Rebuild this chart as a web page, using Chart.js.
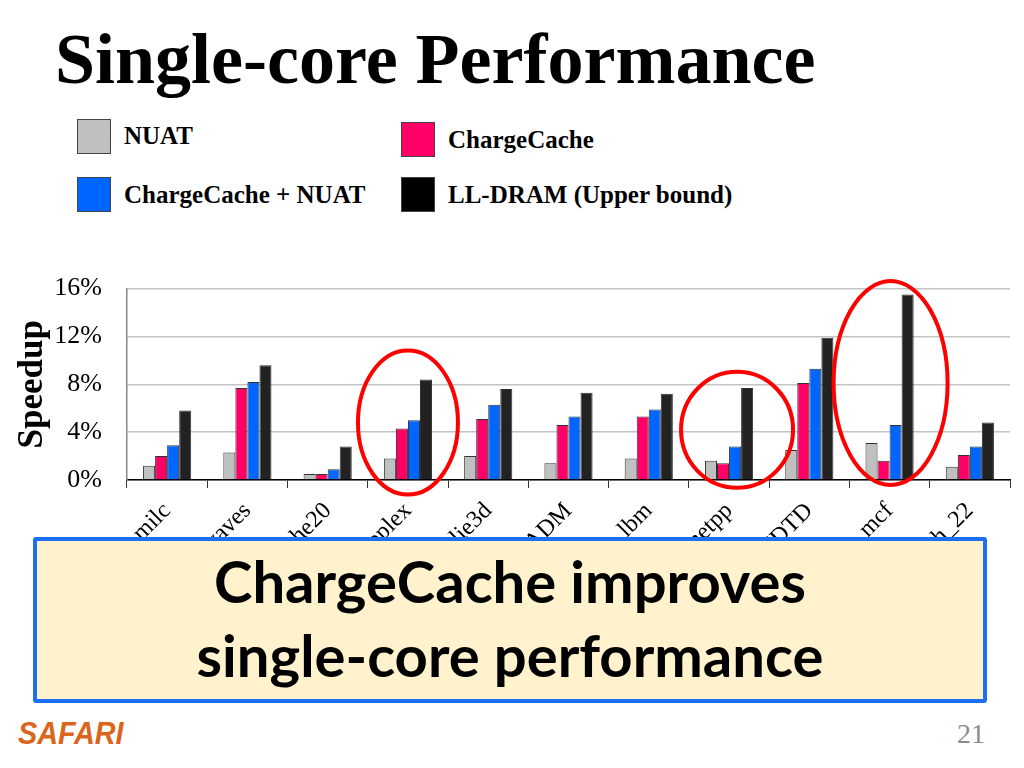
<!DOCTYPE html>
<html>
<head>
<meta charset="utf-8">
<title>Single-core Performance</title>
<script src="https://cdn.jsdelivr.net/npm/chart.js@4.4.0/dist/chart.umd.min.js"></script>
<style>
    html, body { margin: 0; padding: 0; background: #fff; }
    #slide { position: relative; width: 1024px; height: 768px; overflow: hidden; }
    h1 {
        position: absolute; left: 55px; top: 18px; margin: 0;
        font-family: "Liberation Serif", serif; font-weight: bold; font-size: 72px;
        color: #000; white-space: nowrap;
    }
    .key { position: absolute; width: 32px; height: 33px; border: 1px solid #444; }
    .key-label {
        position: absolute; font-family: "Liberation Serif", serif; font-weight: bold;
        font-size: 25px; color: #000; white-space: nowrap;
    }
    #chart { position: absolute; left: 0; top: 248px; }
    #note {
        position: absolute; left: 33px; top: 537px; width: 946px; height: 155px;
        background: #fff2cc; border: 4px solid #1c6ff0; border-radius: 3px;
        font-family: Lato, sans-serif; font-weight: bold; font-size: 58px;
        line-height: 74px; text-align: center; color: #000;
        padding-top: 3px; box-sizing: content-box;
    }
    #logo {
        position: absolute; left: 18px; top: 715px; font-family: "Liberation Sans", sans-serif;
        font-weight: bold; font-style: italic; font-size: 32px; color: #d9661c;
        transform: scaleX(0.9); transform-origin: left center;
    }
    #page {
        position: absolute; left: 957px; top: 718px; font-family: "Liberation Serif", serif;
        font-size: 28px; color: #8c8c8c;
    }
</style>
</head>
<body>
<div id="slide">
    <h1>Single-core Performance</h1>

    <div class="key" style="left:77px; top:119px; background:#c0c0c0;"></div>
    <div class="key-label" style="left:124px; top:122px;">NUAT</div>
    <div class="key" style="left:401px; top:122px; background:#ff0066;"></div>
    <div class="key-label" style="left:448px; top:126px;">ChargeCache</div>
    <div class="key" style="left:77px; top:177px; background:#0066ff;"></div>
    <div class="key-label" style="left:124px; top:181px;">ChargeCache + NUAT</div>
    <div class="key" style="left:401px; top:177px; background:#000;"></div>
    <div class="key-label" style="left:448px; top:181px;">LL-DRAM (Upper bound)</div>

    <canvas id="chart" width="1024" height="312"></canvas>

    <div id="note">ChargeCache improves<br>single-core performance</div>
    <div id="logo">SAFARI</div>
    <div id="page">21</div>
</div>

<script>
// Benchmarks and speedup values (%)
const benchmarks = ['milc', 'bwaves', 'apache20', 'soplex', 'leslie3d', 'cactusADM',
                    'lbm', 'omnetpp', 'GemsFDTD', 'mcf', 'tpch_22'];
const nuat        = [1.2, 2.3, 0.5, 1.8, 2.0, 1.4, 1.8, 1.6, 2.5, 3.1, 1.1];
const chargeCache = [2.0, 7.7, 0.5, 4.3, 5.1, 4.6, 5.3, 1.4, 8.1, 1.6, 2.1];
const ccPlusNuat  = [2.9, 8.2, 0.9, 5.0, 6.3, 5.3, 5.9, 2.8, 9.3, 4.6, 2.8];
const llDram      = [5.8, 9.6, 2.8, 8.4, 7.6, 7.3, 7.2, 7.7, 11.9, 15.5, 4.8];

const yTicks = [0, 4, 8, 12, 16];

// Red circles drawn round some benchmarks (category, centre value in %)
const highlightCats   = ['soplex', 'omnetpp', 'mcf'];
const highlightCenter = [4.8, 4.2, 8.1];

// Draw the red ellipses on top of the bars
const highlightPlugin = {
    id: 'highlights',
    afterDatasetsDraw(chart) {
        const ctx = chart.ctx;
        const x = chart.scales.x;
        const y = chart.scales.y;
        const radii = [[50, 72], [56, 58], [57, 102]];
        const shift = [0, 8, 1];
        ctx.save();
        ctx.strokeStyle = '#ff0000';
        ctx.lineWidth = 4;
        highlightCats.forEach((cat, i) => {
            const cx = x.getPixelForValue(benchmarks.indexOf(cat)) + shift[i];
            const cy = y.getPixelForValue(highlightCenter[i]);
            ctx.beginPath();
            ctx.ellipse(cx, cy, radii[i][0], radii[i][1], 0, 0, Math.PI * 2);
            ctx.stroke();
        });
        ctx.restore();
    }
};

function makeDataset(label, data, color) {
    return {
        label: label,
        data: data,
        backgroundColor: color,
        borderColor: '#333',
        borderWidth: 1,
        categoryPercentage: 0.6,
        barPercentage: 1.0
    };
}

document.addEventListener('DOMContentLoaded', function() {
    const serif = '"Liberation Serif", serif';
    new Chart(document.getElementById('chart'), {
        type: 'bar',
        data: {
            labels: benchmarks,
            datasets: [
                makeDataset('NUAT', nuat, '#c0c0c0'),
                makeDataset('ChargeCache', chargeCache, '#ff0066'),
                makeDataset('ChargeCache + NUAT', ccPlusNuat, '#0066ff'),
                makeDataset('LL-DRAM (Upper bound)', llDram, '#222222')
            ]
        },
        options: {
            responsive: false,
            animation: false,
            layout: { padding: { top: 18, right: 14, left: 0, bottom: 0 } },
            plugins: {
                legend: { display: false },
                tooltip: { enabled: false }
            },
            scales: {
                x: {
                    offset: true,
                    grid: {
                        offset: true,
                        drawOnChartArea: false,
                        drawTicks: true,
                        tickLength: 8,
                        color: '#333'
                    },
                    border: { color: '#000', width: 1.5 },
                    ticks: {
                        autoSkip: false,
                        maxRotation: 45,
                        minRotation: 45,
                        color: '#000',
                        padding: 9,
                        font: { family: serif, size: 24 }
                    },
                    afterFit(scale) { scale.height = 80; }
                },
                y: {
                    min: 0,
                    max: 16,
                    afterBuildTicks(scale) {
                        scale.ticks = yTicks.map(v => ({ value: v }));
                    },
                    grid: { drawTicks: false, color: '#c4c4c4', lineWidth: 1.5 },
                    border: { color: '#888', width: 1.5 },
                    ticks: {
                        padding: 25,
                        color: '#000',
                        font: { family: serif, size: 26 },
                        callback: v => v + '%'
                    },
                    title: {
                        display: true,
                        text: 'Speedup',
                        color: '#000',
                        padding: { top: 12, bottom: 0 },
                        font: { family: serif, size: 35, weight: 'bold' }
                    },
                    afterFit(scale) { scale.width = 127; }
                }
            }
        },
        plugins: [highlightPlugin]
    });
});
</script>
</body>
</html>
